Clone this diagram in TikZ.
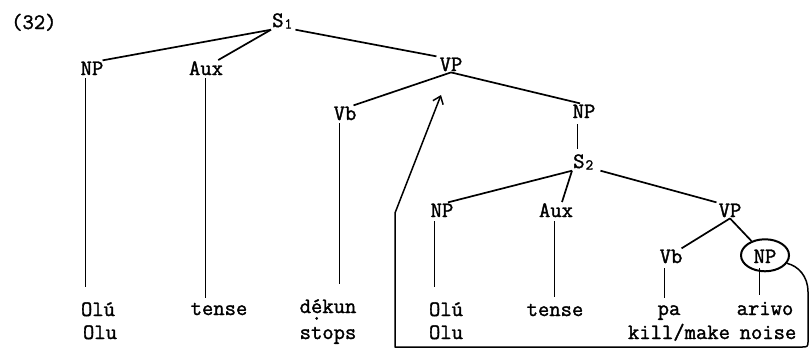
\documentclass[tikz,border=0pt]{standalone}
\usepackage{fontspec}
\newfontfamily\tw{Latin Modern Mono}[FakeBold=1.5]
\usetikzlibrary{shapes.geometric,arrows.meta}
\newcommand\edot{\ooalign{\'e\cr\smash{\raisebox{-0.7ex}{.}}\cr}}
\newcommand\subn[1]{\kern1pt{\fontsize{15}{15}\selectfont\raisebox{-1.5pt}{#1}}}
\begin{document}
\begin{tikzpicture}[x=1pt,y=-1pt,
  lab/.style={font=\tw\fontsize{22}{24}\selectfont,inner sep=1pt,anchor=base},
  branch/.style={line width=1.7pt},
  stem/.style={line width=0.8pt},
  ring/.style={draw,ellipse,line width=2pt,minimum width=48pt,minimum height=32pt,inner sep=0pt},
  move/.style={line width=1.5pt,line join=round}]
\useasboundingbox[fill=white] (0,0) rectangle (810,349);
% labels
\node[lab,anchor=base west] (num) at (10,29) {(32)};
\node[lab,anchor=base west] (S1) at (271,27) {S\subn{1}};
\node[lab] (NPa) at (92,75) {NP};
\node[lab] (Auxa) at (206,75) {Aux};
\node[lab] (VPa) at (451,71) {VP};
\node[lab] (Vba) at (345,120) {Vb};
\node[lab] (NPm) at (584,118) {NP};
\node[lab,anchor=base west] (S2) at (572,168) {S\subn{2}};
\node[lab] (NPb) at (442,217) {NP};
\node[lab] (Auxb) at (556,217) {Aux};
\node[lab] (VPb) at (730,217) {VP};
\node[lab] (Vbb) at (671,263) {Vb};
\node[lab] (NPc) at (765,263) {NP};
\node[ring] (ring) at ([yshift=1pt]NPc.center) {};
% leaves
\node[lab] (L1a) at (98,316) {Ol\'u};
\node[lab] (L1b) at (100,339) {Olu};
\node[lab] (L2) at (219,315) {tense};
\node[lab] (L3a) at (328,313) {d\edot kun};
\node[lab] (L3b) at (328,339) {stops};
\node[lab] (L4a) at (446,316) {Ol\'u};
\node[lab] (L4b) at (446,339) {Olu};
\node[lab] (L5) at (555,316) {tense};
\node[lab] (L6a) at (669,315) {pa};
\node[lab] (L6b) at (679,339) {kill/make};
\node[lab] (L7a) at (765,315) {ariwo};
\node[lab] (L7b) at (768,339) {noise};
% branches
\draw[branch] (S1.south west) -- ([xshift=-2pt]NPa.north east);
\draw[branch] (S1.south west) -- ([xshift=-6pt]Auxa.north east);
\draw[branch] ([xshift=2pt]S1.south east) -- ([xshift=-2pt]VPa.north west);
\draw[branch] (VPa.south) -- ([xshift=-4pt]Vba.north east);
\draw[branch] (VPa.south) -- ([xshift=-4pt]NPm.north);
\draw[branch] (S2.south west) -- ([xshift=6pt]NPb.north);
\draw[branch] (S2.south west) -- ([xshift=6pt]Auxb.north);
\draw[branch] ([xshift=6pt]S2.south east) -- ([xshift=-1pt]VPb.north west);
\draw[branch] (VPb.south) -- ([xshift=-2pt]Vbb.north east);
\draw[branch] (VPb.south) -- (ring);
% stems
\draw[stem,shorten <=2pt,shorten >=14pt] ([xshift=-7pt]NPa.south) -- ([xshift=-7pt]NPa.south |- L1a.north);
\draw[stem,shorten <=2pt,shorten >=4pt] ([xshift=-1pt]Auxa.south) -- ([xshift=-1pt]Auxa.south |- L2.north);
\draw[stem,shorten <=2pt,shorten >=14pt] ([xshift=-6pt]Vba.south) -- ([xshift=-6pt]Vba.south |- L3a.north);
\draw[stem,shorten <=5pt,shorten >=4pt] ([xshift=-7pt]NPm.south) -- ([xshift=-7pt]NPm.south |- S2.north);
\draw[stem,shorten <=3pt,shorten >=14pt] ([xshift=-8pt]NPb.south) -- ([xshift=-8pt]NPb.south |- L4a.north);
\draw[stem,shorten <=3pt,shorten >=6pt] ([xshift=-2pt]Auxb.south) -- ([xshift=-2pt]Auxb.south |- L5.north);
\draw[stem,shorten <=4pt,shorten >=6pt] ([xshift=-7pt]Vbb.south) -- ([xshift=-7pt]Vbb.south |- L6a.north);
\draw[stem,shorten <=4pt,shorten >=6pt] ([xshift=-6pt]NPc.south) -- ([xshift=-6pt]NPc.south |- L7a.north);
% movement arrow
\coordinate (c1) at (808,292);
\coordinate (c2) at (808,340);
\coordinate (c3) at (801,347);
\coordinate (c4) at (395,347);
\coordinate (bend) at (395,213);
\coordinate (tip) at (441,95);
\draw[move,-{Straight Barb[length=7pt,width=11pt,line width=1.5pt]}]
  (ring.-20) .. controls (798,266) and (808,276) .. (c1) -- (c2)
  .. controls (808,347) .. (c3) -- (c4) -- (bend) -- (tip);
\end{tikzpicture}
\end{document}
